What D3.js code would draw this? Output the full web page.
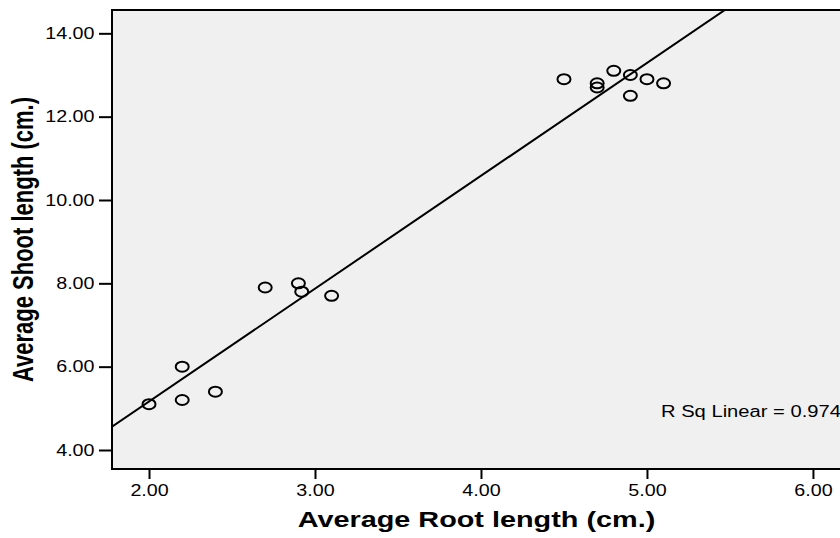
<!DOCTYPE html>
<html>
<head>
<meta charset="utf-8">
<script src="https://cdn.jsdelivr.net/npm/d3@7"></script>
<style>
  body { margin: 0; background: #fff; }
  svg { display: block; font-family: Arial, "Liberation Sans", sans-serif; }
</style>
</head>
<body>
<svg id="chart" width="840" height="538"></svg>
<script>
// data
const rootLength = [2.0, 2.2, 2.2, 2.4, 2.7, 2.9, 2.92, 3.1, 4.5, 4.7, 4.7, 4.8, 4.9, 4.9, 5.0, 5.1];
const shootLength = [5.1, 6.0, 5.2, 5.4, 7.9, 8.0, 7.8, 7.7, 12.9, 12.8, 12.7, 13.1, 13.0, 12.5, 12.9, 12.8];
const xTicks = [2, 3, 4, 5, 6];
const yTicks = [4, 6, 8, 10, 12, 14];
const rSquared = 0.974;
const xTitle = "Average Root length (cm.)";
const yTitle = "Average Shoot length (cm.)";

const points = rootLength.map((d, i) => ({ x: d, y: shootLength[i] }));

const plotLeft = 112, plotRight = 841, plotTop = 10, plotBottom = 469;
const stretch = 1.23; // picture is wider than tall

const svg = d3.select("#chart");

const x = d3.scaleLinear().domain([1.777, 6.169]).range([plotLeft, plotRight]);
const y = d3.scaleLinear().domain([3.544, 14.56]).range([plotBottom, plotTop]);

svg.append("defs")
    .append("clipPath")
    .attr("id", "plot-clip")
    .append("rect")
    .attr("x", plotLeft)
    .attr("y", plotTop)
    .attr("width", plotRight - plotLeft)
    .attr("height", plotBottom - plotTop);

svg.append("rect")
    .attr("x", plotLeft)
    .attr("y", plotTop)
    .attr("width", plotRight - plotLeft)
    .attr("height", plotBottom - plotTop)
    .attr("fill", "#f0f0f0");

// axes
const fmt = d3.format(".2f");
const xAxis = svg.append("g")
    .attr("transform", `translate(0,${plotBottom})`)
    .call(d3.axisBottom(x).tickValues(xTicks).tickFormat(fmt).tickSize(10).tickPadding(5.5));
const yAxis = svg.append("g")
    .attr("transform", `translate(${plotLeft},0)`)
    .call(d3.axisLeft(y).tickValues(yTicks).tickFormat(fmt).tickSize(13).tickPadding(4.5));

[xAxis, yAxis].forEach((g) => {
    g.select(".domain").remove();
    g.selectAll(".tick line").attr("stroke", "#000").attr("stroke-width", 2);
    g.selectAll(".tick text")
        .attr("fill", "#000")
        .style("font-size", "16px")
        .style("font-family", "Arial, 'Liberation Sans', sans-serif");
});

// regression line
const mx = d3.mean(rootLength), my = d3.mean(shootLength);
const slope = d3.sum(points, (p) => (p.x - mx) * (p.y - my)) / d3.sum(points, (p) => (p.x - mx) ** 2);
const intercept = my - slope * mx;
const xd = x.domain();

svg.append("line")
    .attr("clip-path", "url(#plot-clip)")
    .attr("x1", x(xd[0]))
    .attr("y1", y(intercept + slope * xd[0]))
    .attr("x2", x(xd[1]))
    .attr("y2", y(intercept + slope * xd[1]))
    .attr("stroke", "#000")
    .attr("stroke-width", 2);

svg.append("g")
    .selectAll("ellipse")
    .data(points)
    .enter()
    .append("ellipse")
    .attr("cx", (d) => x(d.x))
    .attr("cy", (d) => y(d.y))
    .attr("rx", 6.5)
    .attr("ry", 5)
    .attr("fill", "none")
    .attr("stroke", "#000")
    .attr("stroke-width", 2);

// plot frame
svg.append("rect")
    .attr("x", plotLeft)
    .attr("y", plotTop)
    .attr("width", plotRight - plotLeft)
    .attr("height", plotBottom - plotTop)
    .attr("fill", "none")
    .attr("stroke", "#000")
    .attr("stroke-width", 2);

svg.append("text")
    .attr("class", "wide rsq")
    .attr("x", 661)
    .attr("y", 417)
    .style("font-size", "16px")
    .text("R Sq Linear = " + rSquared.toFixed(3));

svg.append("text")
    .attr("class", "wide title")
    .attr("x", (plotLeft + plotRight) / 2)
    .attr("y", 527)
    .attr("text-anchor", "middle")
    .style("font-size", "22px")
    .style("font-weight", "bold")
    .text(xTitle);

svg.append("text")
    .attr("transform", `translate(33,${(plotTop + plotBottom) / 2}) scale(1.3,1) rotate(-90)`)
    .attr("text-anchor", "middle")
    .style("font-size", "22px")
    .style("font-weight", "bold")
    .text(yTitle);

// widen horizontal text like the original
svg.selectAll(".tick text, text.wide").each(function () {
    let k = stretch;
    if (this.classList.contains("title")) k = 1.31;
    if (this.classList.contains("rsq")) k = 1.26;
    const w = this.getComputedTextLength();
    d3.select(this).attr("textLength", w * k).attr("lengthAdjust", "spacingAndGlyphs");
});
</script>
</body>
</html>
